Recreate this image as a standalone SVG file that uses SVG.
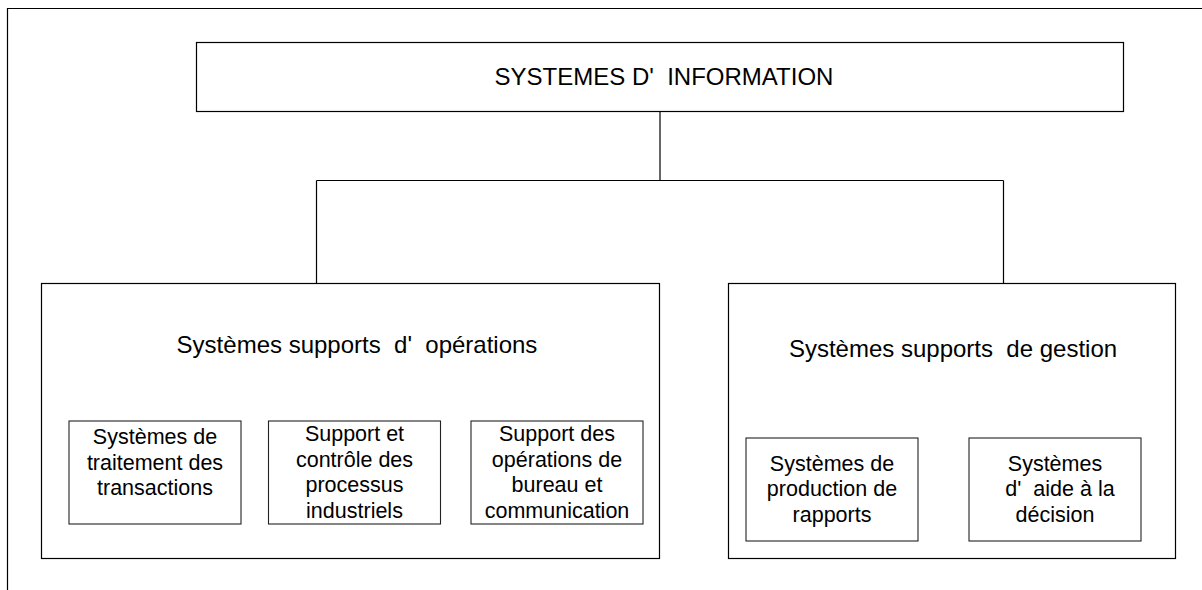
<svg xmlns="http://www.w3.org/2000/svg" width="1202" height="590" viewBox="0 0 1202 590">
<style>
.box{fill:#fff;stroke:#000;stroke-width:1.2}
.sm{fill:#fff;stroke:#222;stroke-width:1.1}
.ln{fill:none;stroke:#000;stroke-width:1.2}
text{font-family:"Liberation Sans",Arial,sans-serif;fill:#000;text-anchor:middle}
.h{font-size:24px}
.s{font-size:21.5px}
</style>
<rect width="1202" height="590" fill="#fff"/>
<path class="ln" d="M7.5 590 V8.5 H1202" stroke="#333"/>
<g id="connectors">
<path class="ln" d="M660 111.5 V180.5"/>
<path class="ln" d="M316.5 180.5 H1003.5"/>
<path class="ln" d="M316.5 180.5 V283.5"/>
<path class="ln" d="M1003.5 180.5 V283.5"/>
</g>
<g id="root">
<rect class="box" x="196.5" y="42.5" width="927" height="69"/>
<text class="h" x="664" y="85" xml:space="preserve">SYSTEMES D'  INFORMATION</text>
</g>
<g id="operations">
<rect class="box" x="41.5" y="283.5" width="618" height="275"/>
<text class="h" x="357" y="353" xml:space="preserve">Systèmes supports  d'  opérations</text>
</g>
<g id="gestion">
<rect class="box" x="728.5" y="283.5" width="447" height="275"/>
<text class="h" x="953" y="357" xml:space="preserve">Systèmes supports  de gestion</text>
</g>
<g id="transactions">
<rect class="sm" x="69" y="421" width="172" height="103"/>
<text class="s" x="155" y="444">Systèmes de</text>
<text class="s" x="155" y="469.5">traitement des</text>
<text class="s" x="155" y="495">transactions</text>
</g>
<g id="processus">
<rect class="sm" x="268.5" y="421" width="172" height="103"/>
<text class="s" x="354.5" y="441">Support et</text>
<text class="s" x="354.5" y="466.5">contrôle des</text>
<text class="s" x="354.5" y="492">processus</text>
<text class="s" x="354.5" y="517.5">industriels</text>
</g>
<g id="bureau">
<rect class="sm" x="471" y="421" width="172" height="103"/>
<text class="s" x="557" y="441">Support des</text>
<text class="s" x="557" y="466.5">opérations de</text>
<text class="s" x="557" y="492">bureau et</text>
<text class="s" x="557" y="517.5">communication</text>
</g>
<g id="rapports">
<rect class="sm" x="746" y="438" width="172" height="103"/>
<text class="s" x="832" y="470.5">Systèmes de</text>
<text class="s" x="832" y="496">production de</text>
<text class="s" x="832" y="521.5">rapports</text>
</g>
<g id="decision">
<rect class="sm" x="969" y="438" width="172" height="103"/>
<text class="s" x="1055" y="470.5">Systèmes</text>
<text class="s" x="1060" y="496" xml:space="preserve">d'  aide à la</text>
<text class="s" x="1055" y="521.5">décision</text>
</g>
</svg>
